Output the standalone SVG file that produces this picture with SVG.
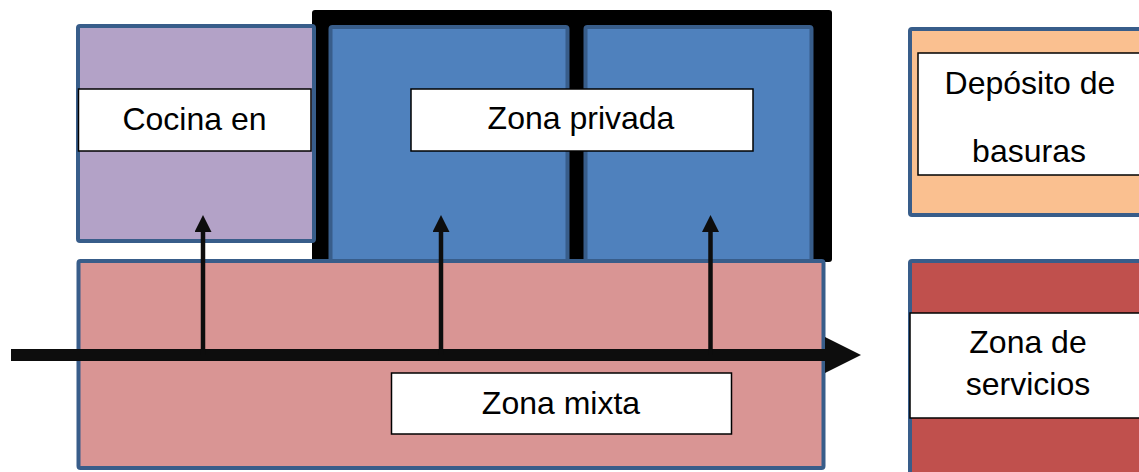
<svg xmlns="http://www.w3.org/2000/svg" width="1139" height="472" viewBox="0 0 1139 472">
<style>
.zone{stroke:#385d8a;stroke-width:4}
.lbl{fill:#ffffff;stroke:#000000;stroke-width:1.5}
.t{font-family:"Liberation Sans",Arial,sans-serif;font-size:32px;fill:#000000;text-anchor:middle}
.vline{stroke:#0d0d0d;stroke-width:4.5;fill:none}
</style>
<defs>
<marker id="vhead" markerUnits="userSpaceOnUse" markerWidth="17" markerHeight="17" refX="1" refY="8.5" orient="auto" viewBox="0 0 17 17">
<path d="M0,0 L17,8.5 L0,17 z" fill="#0d0d0d"/>
</marker>
<marker id="mhead" markerUnits="userSpaceOnUse" markerWidth="36" markerHeight="36" refX="1" refY="18" orient="auto" viewBox="0 0 36 36">
<path d="M0,0 L36,18 L0,36 z" fill="#0d0d0d"/>
</marker>
</defs>
<rect width="1139" height="472" fill="#ffffff"/>
<g id="frame-privada">
<rect x="312" y="10" width="520" height="252" rx="3" fill="#000000"/>
</g>
<g id="privada-1">
<rect class="zone" x="330.5" y="27" width="237" height="240" rx="2" fill="#4f81bd"/>
</g>
<g id="privada-2">
<rect class="zone" x="585.5" y="27" width="226" height="240" rx="2" fill="#4f81bd"/>
</g>
<g id="cocina">
<rect class="zone" x="78" y="26" width="236" height="215" rx="2" fill="#b3a2c7"/>
<rect class="lbl" x="78.5" y="89" width="232.5" height="62"/>
<text class="t" x="194.5" y="130">Cocina en</text>
</g>
<g id="privada-label">
<rect class="lbl" x="411" y="89" width="342" height="62"/>
<text class="t" x="581" y="129">Zona privada</text>
</g>
<g id="mixta">
<rect class="zone" x="78.5" y="261" width="745" height="207" rx="2" fill="#d99594"/>
<rect class="lbl" x="391.5" y="373" width="340" height="61"/>
<text class="t" x="561" y="414">Zona mixta</text>
</g>
<g id="deposito">
<rect class="zone" x="910" y="29" width="240" height="186" rx="2" fill="#fac090"/>
<rect class="lbl" x="918" y="53" width="230" height="122"/>
<text class="t" x="1030" y="94">Depósito de</text>
<text class="t" x="1029" y="162">basuras</text>
</g>
<g id="servicios">
<rect class="zone" x="910" y="261" width="240" height="220" rx="2" fill="#c0504d"/>
<rect class="lbl" x="910" y="313" width="238" height="105"/>
<text class="t" x="1028" y="353">Zona de</text>
<text class="t" x="1028" y="395">servicios</text>
</g>
<g id="connectors">
<line x1="11" y1="355" x2="826" y2="355" stroke="#0d0d0d" stroke-width="12" marker-end="url(#mhead)"/>
<line class="vline" x1="203" y1="355" x2="203" y2="231" marker-end="url(#vhead)"/>
<line class="vline" x1="441" y1="355" x2="441" y2="231" marker-end="url(#vhead)"/>
<line class="vline" x1="710.5" y1="355" x2="710.5" y2="231" marker-end="url(#vhead)"/>
</g>
</svg>
